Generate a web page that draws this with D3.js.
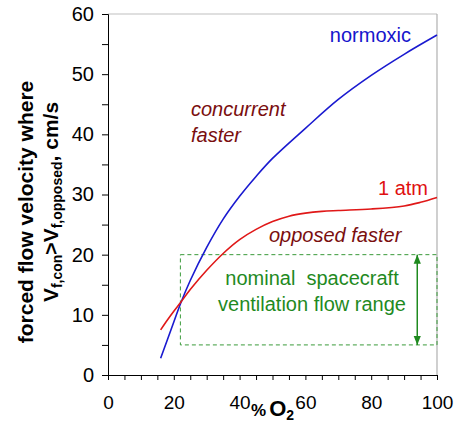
<!DOCTYPE html>
<html><head><meta charset="utf-8">
<script src="https://cdn.jsdelivr.net/npm/d3@7"></script>
<style>body{margin:0;background:#fff}svg{display:block;font-family:"Liberation Sans",Arial,sans-serif}</style>
</head><body><svg id="c" width="454" height="430"></svg>
<script>
const normoxicX = [16,20,22,25,30,35,40,45,50,60,70,80,90,100];
const normoxicY = [2.8,8.8,11.8,15.7,21.2,25.9,29.7,33,36,41,45.8,49.8,53.3,56.5];
const atmX = [16,18,20,22,25,30,35,40,45,50,55,60,65,70,80,90,95,100];
const atmY = [7.5,9.1,10.6,12,14.2,17.4,20.2,22.5,24.2,25.5,26.4,26.9,27.2,27.35,27.6,28.1,28.7,29.5];
const xTicks = [0,20,40,60,80,100];
const yTicks = [0,10,20,30,40,50,60];
const ventRange = {x0:22, x1:100, y0:5, y1:20, arrowX:94};

const svg = d3.select("#c");
const x = d3.scaleLinear().domain([0,100]).range([108,437]);
const y = d3.scaleLinear().domain([0,60]).range([375,14]);
const FF = "Liberation Sans, Arial, sans-serif";

// frame (gray top/right)
svg.append("line").attr("x1",x(0)).attr("x2",x(100)).attr("y1",y(60)).attr("y2",y(60)).attr("stroke","#c0c0c0").attr("stroke-width",1.2);
svg.append("line").attr("x1",x(100)).attr("x2",x(100)).attr("y1",y(60)).attr("y2",y(0)).attr("stroke","#b0b0b0").attr("stroke-width",1.2);

// axes
const gx = svg.append("g").attr("transform",`translate(0,${y(0)})`).call(d3.axisBottom(x).tickValues(d3.range(0,101,5)).tickSize(5).tickFormat(""));
gx.select(".domain").attr("stroke","#000");
gx.selectAll(".tick line").attr("stroke","#000");
const gxl = svg.append("g").attr("transform",`translate(0,${y(0)})`).call(d3.axisBottom(x).tickValues(xTicks).tickSize(0).tickPadding(21));
gxl.select(".domain").remove();
gxl.selectAll("text").attr("font-size",19).attr("fill","#000").attr("font-family",FF);

const gy = svg.append("g").attr("transform",`translate(${x(0)},0)`).call(d3.axisLeft(y).tickValues(d3.range(0,61,5)).tickSize(6).tickFormat(""));
gy.select(".domain").attr("stroke","#000");
gy.selectAll(".tick line").attr("stroke","#000");
const gyl = svg.append("g").attr("transform",`translate(${x(0)},0)`).call(d3.axisLeft(y).tickValues(yTicks).tickSize(0).tickPadding(14));
gyl.select(".domain").remove();
gyl.selectAll("text").attr("font-size",20).attr("fill","#000").attr("font-family",FF);

// ventilation range box
svg.append("rect").attr("x",x(ventRange.x0)).attr("y",y(ventRange.y1))
  .attr("width",x(ventRange.x1)-x(ventRange.x0)).attr("height",y(ventRange.y0)-y(ventRange.y1))
  .attr("fill","none").attr("stroke","#3a9a3a").attr("stroke-width",1).attr("stroke-dasharray","4,3");
const defs = svg.append("defs");
defs.append("marker").attr("id","ah").attr("viewBox","0 0 10 10").attr("refX",10).attr("refY",5)
  .attr("markerWidth",6).attr("markerHeight",6).attr("orient","auto-start-reverse")
  .append("path").attr("d","M0,1L10,5L0,9Z").attr("fill","#1f8a1f");
svg.append("line").attr("x1",x(ventRange.arrowX)).attr("x2",x(ventRange.arrowX))
  .attr("y1",y(ventRange.y1)).attr("y2",y(ventRange.y0)).attr("stroke","#1f8a1f").attr("stroke-width",1.5)
  .attr("marker-start","url(#ah)").attr("marker-end","url(#ah)");

// curves
const line = d3.line().x(d=>x(d[0])).y(d=>y(d[1])).curve(d3.curveCatmullRom.alpha(0.5));
svg.append("path").attr("d",line(normoxicX.map((v,i)=>[v,normoxicY[i]]))).attr("fill","none").attr("stroke","#1a1ad0").attr("stroke-width",1.6);
svg.append("path").attr("d",line(atmX.map((v,i)=>[v,atmY[i]]))).attr("fill","none").attr("stroke","#e01818").attr("stroke-width",1.6);

// annotations
const t = (tx,ty,s,col,opt={})=>svg.append("text").attr("x",tx).attr("y",ty).text(s).attr("fill",col)
  .attr("font-size",opt.size||20).attr("font-style",opt.italic?"italic":"normal").attr("text-anchor",opt.anchor||"start").attr("font-weight",opt.bold?"bold":"normal");
t(411,42,"normoxic","#1515cc",{anchor:"end"});
t(191,116,"concurrent","#7a0e0e",{italic:true});
t(191,142,"faster","#7a0e0e",{italic:true});
t(428,195,"1 atm","#e01010",{anchor:"end"});
t(269,242,"opposed faster","#7a0e0e",{italic:true});
t(312,285,"nominal\u00a0 spacecraft","#1f8a1f",{anchor:"middle"});
t(312,311,"ventilation flow range","#1f8a1f",{anchor:"middle"});

// x label
const xl = svg.append("text").attr("x",251).attr("y",416).attr("text-anchor","start").attr("font-weight","bold").attr("fill","#000");
xl.append("tspan").text("%").attr("font-size",17);
xl.append("tspan").text("O").attr("font-size",22).attr("dx",3);
xl.append("tspan").text("2").attr("font-size",14).attr("dy",4);

// y label
svg.append("text").attr("transform","translate(33,212) rotate(-90)").attr("text-anchor","middle").attr("font-size",21).attr("font-weight","bold").attr("fill","#000").text("forced flow velocity where");
const yl2 = svg.append("text").attr("transform","translate(58,202) rotate(-90)").attr("text-anchor","middle").attr("font-size",21).attr("font-weight","bold").attr("fill","#000");
yl2.append("tspan").text("V");
yl2.append("tspan").text("f,con").attr("font-size",14).attr("dy",4);
yl2.append("tspan").text(">V").attr("dy",-4);
yl2.append("tspan").text("f,opposed").attr("font-size",14).attr("dy",4);
yl2.append("tspan").text(", cm/s").attr("dy",-4);
</script></body></html>
